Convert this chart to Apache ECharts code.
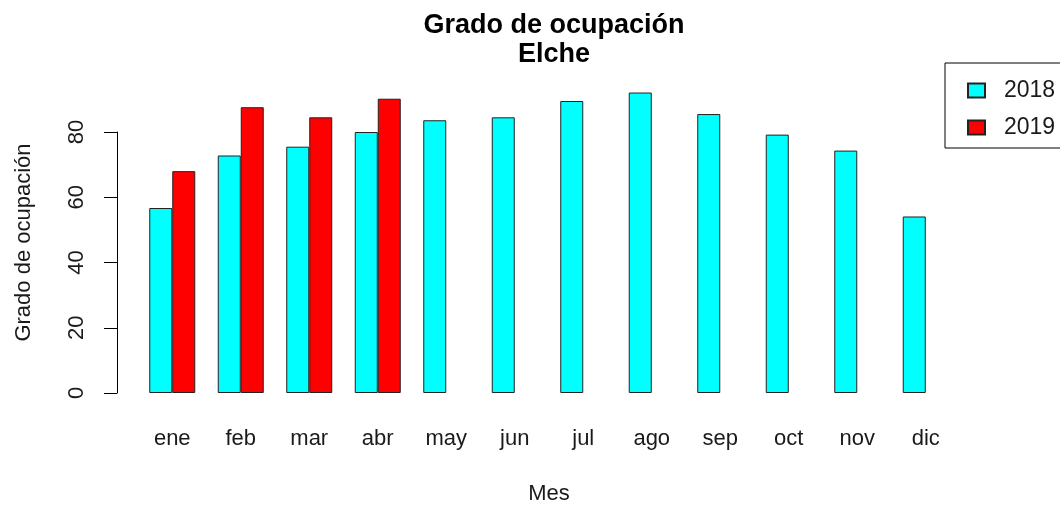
<!DOCTYPE html>
<html>
<head>
<meta charset="utf-8">
<script src="https://cdn.jsdelivr.net/npm/echarts@6/dist/echarts.min.js"></script>
<style>
  html, body { margin: 0; padding: 0; background: #fff; }
  #chart { width: 1060px; height: 512px; }
</style>
</head>
<body>
<div id="chart"></div>
<script>
const months = ['ene', 'feb', 'mar', 'abr', 'may', 'jun', 'jul', 'ago', 'sep', 'oct', 'nov', 'dic']
const occ2018 = [56.7, 72.8, 75.5, 80.0, 83.6, 84.5, 89.5, 92.1, 85.5, 79.2, 74.3, 54.1]
const occ2019 = [68.0, 87.6, 84.5, 90.2, null, null, null, null, null, null, null, null]
const yTicks = [0, 20, 40, 60, 80]

const FONT = '"Liberation Sans", Arial, sans-serif'
const TEXT = '#1a1a1a'

const chart = echarts.init(document.getElementById('chart'), null, { renderer: 'canvas' })

const option = {
  backgroundColor: '#ffffff',
  animation: false,
  title: {
    text: 'Grado de ocupación\nElche',
    left: 549,
    top: 6,
    textAlign: 'center',
    textStyle: {
      fontFamily: FONT,
      fontWeight: 'bold',
      fontSize: 27,
      lineHeight: 29,
      color: '#000',
    },
  },
  legend: {
    orient: 'vertical',
    left: 945,
    top: 63,
    // box runs past the right edge, as in the original
    padding: [16, 40, 9, 22],
    itemWidth: 17,
    itemHeight: 14,
    itemGap: 14,
    borderColor: '#000',
    borderWidth: 1,
    icon: 'rect',
    textStyle: {
      fontFamily: FONT,
      fontSize: 23,
      lineHeight: 22,
      color: TEXT,
      padding: [0, 0, 0, 14],
    },
    data: ['2018', '2019'],
  },
  grid: {
    left: 138,
    right: 100,
    top: 132,
    bottom: 119,
  },
  xAxis: {
    type: 'category',
    data: months,
    axisLine: { show: false },
    axisTick: { show: false },
    axisLabel: {
      margin: 35,
      fontFamily: FONT,
      fontSize: 22,
      color: TEXT,
      interval: 0,
    },
    name: 'Mes',
    nameLocation: 'middle',
    nameGap: 90,
    nameTextStyle: { fontFamily: FONT, fontSize: 22, color: TEXT },
  },
  yAxis: {
    type: 'value',
    min: yTicks[0],
    max: yTicks[yTicks.length - 1],
    interval: 20,
    offset: 21,
    splitLine: { show: false },
    axisLine: { show: true, lineStyle: { color: '#000', width: 1 } },
    axisTick: { show: true, length: 13, lineStyle: { color: '#000' } },
    axisLabel: {
      rotate: 90,
      margin: 29,
      fontFamily: FONT,
      fontSize: 22,
      color: TEXT,
    },
    name: 'Grado de ocupación',
    nameLocation: 'middle',
    nameRotate: 90,
    nameGap: 82,
    nameTextStyle: {
      fontFamily: FONT,
      fontSize: 22,
      color: TEXT,
      padding: [0, 0, 0, 40],
    },
  },
  series: [
    {
      name: '2018',
      type: 'bar',
      data: occ2018,
      barWidth: 23,
      barGap: 0,
      clip: false,
      itemStyle: { color: '#00FFFF', borderColor: '#222', borderWidth: 1 },
    },
    {
      name: '2019',
      type: 'bar',
      data: occ2019,
      barWidth: 23,
      barGap: 0,
      clip: false,
      itemStyle: { color: '#FF0000', borderColor: '#222', borderWidth: 1 },
    },
  ],
}

chart.setOption(option)
window.addEventListener('resize', () => chart.resize())
</script>
</body>
</html>
